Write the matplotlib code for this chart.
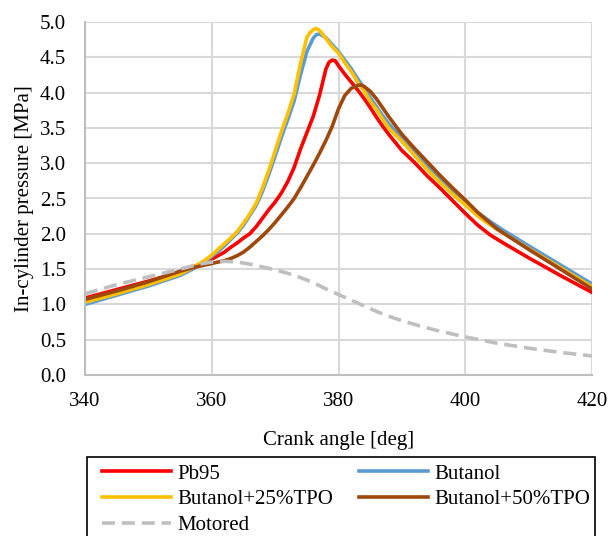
import matplotlib
matplotlib.use("Agg")
import matplotlib.pyplot as plt
from matplotlib.patches import Rectangle

plt.rcParams['font.family'] = ['Liberation Serif', 'DejaVu Serif']

# crank angle [deg] and in-cylinder pressure [MPa] for each fuel
ca_pb95 = [340, 345, 350, 355, 357, 359, 360, 361, 362, 363, 364, 365, 366, 367, 368, 369, 370,
           371, 372, 373, 374, 375, 376, 377, 378, 378.5, 379, 379.5, 380, 381, 382, 383, 384, 385,
           386, 387, 388, 390, 392, 394, 396, 398, 400, 402, 404, 406, 410, 415, 420]
p_pb95 = [1.09, 1.21, 1.33, 1.46, 1.53, 1.60, 1.64, 1.69, 1.74, 1.81, 1.87, 1.94, 2.00, 2.10, 2.22, 2.34, 2.45,
          2.58, 2.74, 2.94, 3.20, 3.43, 3.66, 3.96, 4.33, 4.43, 4.46, 4.45, 4.38, 4.26, 4.15, 4.04, 3.92, 3.79,
          3.65, 3.52, 3.40, 3.18, 3.01, 2.82, 2.65, 2.47, 2.29, 2.12, 1.98, 1.87, 1.66, 1.41, 1.17]

ca_but = [340, 345, 350, 355, 357, 359, 360, 361, 362, 363, 364, 365, 366, 367, 368, 369, 370,
          371, 372, 373, 374, 375, 376, 376.5, 377, 378, 379, 380, 381, 382, 383, 384, 385, 386,
          387, 388, 389, 390, 392, 394, 396, 398, 400, 402, 404, 406, 410, 415, 420]
p_but = [1.00, 1.13, 1.26, 1.41, 1.50, 1.61, 1.68, 1.75, 1.83, 1.92, 2.01, 2.12, 2.26, 2.40, 2.60, 2.84, 3.10,
         3.37, 3.62, 3.88, 4.25, 4.58, 4.77, 4.82, 4.83, 4.78, 4.68, 4.58, 4.46, 4.34, 4.20, 4.07, 3.93, 3.80,
         3.67, 3.55, 3.45, 3.36, 3.15, 2.96, 2.78, 2.61, 2.45, 2.30, 2.17, 2.05, 1.83, 1.56, 1.29]

ca_b25 = [340, 345, 350, 355, 357, 359, 360, 361, 362, 363, 364, 365, 366, 367, 368, 369, 370,
          371, 372, 373, 374, 375, 375.5, 376, 376.5, 377, 378, 379, 380, 381, 382, 383, 384, 385,
          386, 387, 388, 389, 390, 392, 394, 396, 398, 400, 402, 404, 406, 410, 415, 420]
p_b25 = [1.03, 1.15, 1.28, 1.43, 1.52, 1.63, 1.70, 1.78, 1.86, 1.94, 2.03, 2.15, 2.28, 2.43, 2.65, 2.90, 3.17,
         3.45, 3.70, 3.98, 4.41, 4.78, 4.85, 4.89, 4.91, 4.88, 4.77, 4.65, 4.56, 4.42, 4.30, 4.15, 4.03, 3.88,
         3.76, 3.62, 3.49, 3.40, 3.31, 3.11, 2.91, 2.73, 2.56, 2.41, 2.25, 2.12, 2.01, 1.79, 1.52, 1.25]

ca_b50 = [340, 345, 350, 355, 357, 359, 360, 361, 362, 363, 364, 365, 366, 367, 368, 369, 370,
          371, 372, 373, 374, 375, 376, 377, 378, 379, 380, 381, 382, 383, 383.5, 384, 385, 386,
          387, 388, 389, 390, 392, 394, 396, 398, 400, 402, 405, 410, 415, 420]
p_b50 = [1.07, 1.19, 1.32, 1.47, 1.52, 1.56, 1.58, 1.60, 1.62, 1.65, 1.69, 1.74, 1.81, 1.89, 1.97, 2.06, 2.16,
         2.27, 2.38, 2.50, 2.65, 2.81, 2.97, 3.14, 3.32, 3.52, 3.77, 3.96, 4.06, 4.10, 4.11, 4.09, 4.02, 3.91,
         3.78, 3.65, 3.53, 3.41, 3.21, 3.02, 2.83, 2.65, 2.48, 2.30, 2.07, 1.78, 1.50, 1.22]

ca_mot = [340, 345, 350, 355, 358, 360, 362, 364, 366, 368, 370, 372, 374, 376, 378, 380, 382,
          384, 386, 388, 390, 393, 396, 400, 405, 410, 415, 420]
p_mot = [1.15, 1.28, 1.39, 1.50, 1.57, 1.60, 1.61, 1.60, 1.57, 1.53, 1.49, 1.44, 1.38, 1.31, 1.22, 1.14, 1.06,
         0.98, 0.90, 0.83, 0.77, 0.69, 0.62, 0.54, 0.45, 0.38, 0.32, 0.27]

x_ticks = [340, 360, 380, 400, 420]
y_ticks = [0.0, 0.5, 1.0, 1.5, 2.0, 2.5, 3.0, 3.5, 4.0, 4.5, 5.0]

W, H = 608, 536
fig = plt.figure(figsize=(W / 100, H / 100), dpi=100)
ax = fig.add_axes([85 / W, 1 - 375 / H, 507 / W, 353 / H])

lw = 2.6
l_pb, = ax.plot(ca_pb95, p_pb95, color='#FF0000', lw=lw, label='Pb95')
l_bu, = ax.plot(ca_but, p_but, color='#5B9BD5', lw=lw, label='Butanol')
l_25, = ax.plot(ca_b25, p_b25, color='#FFC000', lw=lw, label='Butanol+25%TPO')
l_50, = ax.plot(ca_b50, p_b50, color='#9E480E', lw=lw, label='Butanol+50%TPO')
l_mo, = ax.plot(ca_mot, p_mot, color='#BFBFBF', lw=lw, dashes=(3.6, 1.9), label='Motored')

ax.set_xlim(340, 420)
ax.set_ylim(0, 5)
ax.set_xticks(x_ticks)
ax.set_yticks(y_ticks)
ax.set_yticklabels([f"{v:.1f}" for v in y_ticks])
ax.grid(True, color='#D9D9D9', lw=1.5)
ax.set_axisbelow(True)
for s in ['top', 'right']:
    ax.spines[s].set_visible(False)
for s in ['left', 'bottom']:
    ax.spines[s].set_color('#BFBFBF')
    ax.spines[s].set_linewidth(1.5)
ax.tick_params(length=0, labelsize=15)
ax.tick_params(axis='y', pad=13.5)
ax.tick_params(axis='x', pad=12.5)
ax.set_xlabel('Crank angle [deg]', fontsize=15, labelpad=14)
ax.set_ylabel('In-cylinder pressure [MPa]', fontsize=15, labelpad=4.5)

# legend fills columns first: left column Pb95 / +25% / Motored
handles = [l_pb, l_25, l_mo, l_bu, l_50]
leg = fig.legend(handles, [h.get_label() for h in handles], ncol=2,
                 loc='upper left', bbox_to_anchor=(102 / W, 1 - 464 / H),
                 fontsize=15, frameon=False, handlelength=3.32, handletextpad=0.32,
                 labelspacing=0.3, borderpad=0, columnspacing=1.2, borderaxespad=0)

# legend border runs past the bottom edge of the figure
fig.patches.append(Rectangle((87 / W, 1 - 550 / H), 508 / W, 93 / H,
                             transform=fig.transFigure, fill=False,
                             edgecolor='black', lw=1.2, clip_on=False))

fig.savefig('out.png', dpi=100)
